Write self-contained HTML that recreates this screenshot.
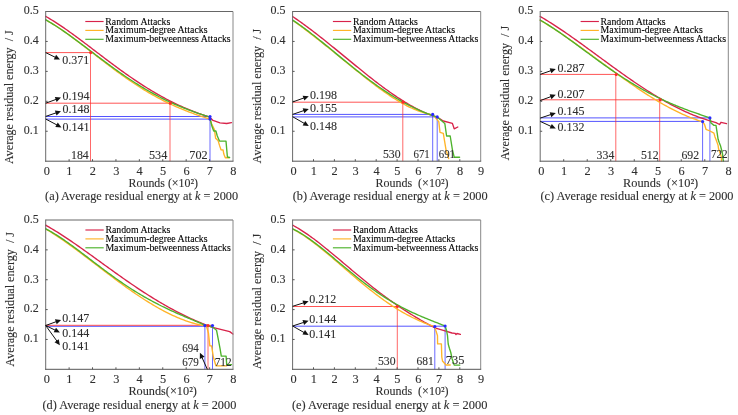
<!DOCTYPE html>
<html><head><meta charset="utf-8"><style>
html,body{margin:0;padding:0;background:#fff;}
svg{display:block;filter:blur(0.3px);}
text{font-family:"Liberation Serif",serif;white-space:pre;stroke:#2e2e2e;stroke-width:0.1px;}
</style></head><body>
<svg width="738" height="415" viewBox="0 0 738 415">
<rect width="738" height="415" fill="#fff"/>
<line x1="45.70" y1="52.60" x2="90.50" y2="52.60" stroke="#ff2a2a" stroke-width="1.0" opacity="0.8"/>
<line x1="45.70" y1="103.20" x2="170.00" y2="103.20" stroke="#ff2a2a" stroke-width="1.0" opacity="0.8"/>
<line x1="45.70" y1="116.50" x2="210.00" y2="116.50" stroke="#2a2aff" stroke-width="1.0" opacity="0.8"/>
<line x1="45.70" y1="119.10" x2="210.00" y2="119.10" stroke="#2a2aff" stroke-width="1.0" opacity="0.8"/>
<line x1="90.50" y1="52.60" x2="90.50" y2="161.20" stroke="#ff2a2a" stroke-width="1.0" opacity="0.7"/>
<line x1="170.00" y1="103.20" x2="170.00" y2="161.20" stroke="#ff2a2a" stroke-width="1.0" opacity="0.7"/>
<line x1="210.00" y1="116.50" x2="210.00" y2="161.20" stroke="#2a2aff" stroke-width="1.0" opacity="0.7"/>
<polyline points="45.70,16.40 47.22,17.27 48.74,18.15 50.26,19.06 51.78,19.98 53.30,20.92 54.82,21.88 56.34,22.85 57.86,23.83 59.38,24.84 60.89,25.85 62.41,26.88 63.93,27.92 65.45,28.97 66.97,30.04 68.49,31.11 70.01,32.19 71.53,33.28 73.05,34.38 74.57,35.49 76.09,36.61 77.61,37.73 79.13,38.86 80.65,39.99 82.17,41.13 83.69,42.27 85.21,43.42 86.73,44.57 88.24,45.72 89.76,46.88 91.28,48.04 92.80,49.19 94.32,50.35 95.84,51.51 97.36,52.67 98.88,53.83 100.40,54.99 101.92,56.14 103.44,57.30 104.96,58.45 106.48,59.59 108.00,60.74 109.52,61.88 111.04,63.02 112.56,64.15 114.08,65.28 115.59,66.40 117.11,67.52 118.63,68.63 120.15,69.73 121.67,70.83 123.19,71.92 124.71,73.01 126.23,74.09 127.75,75.15 129.27,76.22 130.79,77.27 132.31,78.31 133.83,79.35 135.35,80.38 136.87,81.39 138.39,82.40 139.91,83.40 141.43,84.39 142.94,85.37 144.46,86.34 145.98,87.29 147.50,88.24 149.02,89.18 150.54,90.10 152.06,91.02 153.58,91.92 155.10,92.82 156.62,93.70 158.14,94.57 159.66,95.42 161.18,96.27 162.70,97.10 164.22,97.93 165.74,98.74 167.26,99.54 168.78,100.32 170.29,101.10 171.81,101.86 173.33,102.61 174.85,103.35 176.37,104.08 177.89,104.80 179.41,105.50 180.93,106.19 182.45,106.87 183.97,107.54 185.49,108.19 187.01,108.84 188.53,109.47 190.05,110.09 191.57,110.71 193.09,111.30 194.61,111.89 196.12,112.47 197.64,113.04 199.16,113.59 200.68,114.14 202.20,114.67 203.72,115.20 205.24,115.71 206.76,116.22 208.28,116.71 209.80,117.20 213.00,120.40 220.00,122.80 226.70,123.50 231.50,122.60" fill="none" stroke="#d8234a" stroke-width="1.35" stroke-linejoin="round" stroke-linecap="round" />
<polyline points="45.70,19.90 47.22,20.74 48.74,21.61 50.26,22.50 51.78,23.41 53.30,24.35 54.82,25.30 56.34,26.27 57.86,27.26 59.38,28.27 60.89,29.29 62.41,30.33 63.93,31.38 65.45,32.45 66.97,33.53 68.49,34.62 70.01,35.73 71.53,36.84 73.05,37.96 74.57,39.09 76.09,40.23 77.61,41.38 79.13,42.53 80.65,43.69 82.17,44.85 83.69,46.02 85.21,47.19 86.73,48.37 88.24,49.54 89.76,50.72 91.28,51.90 92.80,53.08 94.32,54.26 95.84,55.44 97.36,56.62 98.88,57.80 100.40,58.97 101.92,60.14 103.44,61.31 104.96,62.47 106.48,63.63 108.00,64.79 109.52,65.94 111.04,67.08 112.56,68.22 114.08,69.35 115.59,70.48 117.11,71.59 118.63,72.70 120.15,73.80 121.67,74.89 123.19,75.98 124.71,77.05 126.23,78.12 127.75,79.17 129.27,80.22 130.79,81.25 132.31,82.28 133.83,83.29 135.35,84.29 136.87,85.29 138.39,86.27 139.91,87.23 141.43,88.19 142.94,89.14 144.46,90.07 145.98,90.99 147.50,91.90 149.02,92.80 150.54,93.68 152.06,94.55 153.58,95.41 155.10,96.26 156.62,97.09 158.14,97.91 159.66,98.72 161.18,99.52 162.70,100.30 164.22,101.07 165.74,101.83 167.26,102.57 168.78,103.31 170.29,104.03 171.81,104.74 173.33,105.43 174.85,106.12 176.37,106.79 177.89,107.45 179.41,108.10 180.93,108.74 182.45,109.37 183.97,109.98 185.49,110.59 187.01,111.19 188.53,111.77 190.05,112.35 191.57,112.92 193.09,113.47 194.61,114.02 196.12,114.56 197.64,115.09 199.16,115.62 200.68,116.13 202.20,116.64 203.72,117.15 205.24,117.64 206.76,118.13 208.28,118.62 209.80,119.10 211.60,123.80 214.40,129.50 215.60,138.20 218.00,140.40 219.50,145.40 221.00,149.80 223.10,150.00 223.80,154.10 225.30,157.70 228.90,157.70" fill="none" stroke="#ffb428" stroke-width="1.35" stroke-linejoin="round" stroke-linecap="round" />
<polyline points="45.70,19.80 47.22,20.66 48.74,21.55 50.26,22.46 51.78,23.38 53.30,24.32 54.82,25.28 56.34,26.26 57.86,27.25 59.38,28.26 60.89,29.28 62.41,30.31 63.93,31.36 65.45,32.42 66.97,33.49 68.49,34.56 70.01,35.65 71.53,36.75 73.05,37.86 74.57,38.97 76.09,40.09 77.61,41.21 79.13,42.34 80.65,43.48 82.17,44.62 83.69,45.76 85.21,46.90 86.73,48.05 88.24,49.20 89.76,50.35 91.28,51.50 92.80,52.65 94.32,53.80 95.84,54.95 97.36,56.09 98.88,57.24 100.40,58.38 101.92,59.52 103.44,60.65 104.96,61.78 106.48,62.91 108.00,64.03 109.52,65.15 111.04,66.26 112.56,67.36 114.08,68.46 115.59,69.55 117.11,70.64 118.63,71.71 120.15,72.78 121.67,73.84 123.19,74.89 124.71,75.94 126.23,76.97 127.75,77.99 129.27,79.01 130.79,80.02 132.31,81.01 133.83,82.00 135.35,82.97 136.87,83.93 138.39,84.89 139.91,85.83 141.43,86.76 142.94,87.68 144.46,88.59 145.98,89.49 147.50,90.37 149.02,91.24 150.54,92.11 152.06,92.96 153.58,93.79 155.10,94.62 156.62,95.43 158.14,96.23 159.66,97.02 161.18,97.80 162.70,98.57 164.22,99.32 165.74,100.06 167.26,100.79 168.78,101.51 170.29,102.22 171.81,102.91 173.33,103.59 174.85,104.27 176.37,104.93 177.89,105.57 179.41,106.21 180.93,106.84 182.45,107.46 183.97,108.06 185.49,108.66 187.01,109.24 188.53,109.82 190.05,110.39 191.57,110.94 193.09,111.49 194.61,112.03 196.12,112.56 197.64,113.08 199.16,113.59 200.68,114.10 202.20,114.60 203.72,115.09 205.24,115.58 206.76,116.06 208.28,116.53 209.80,117.00 211.60,125.20 213.70,131.00 215.90,131.00 217.30,136.00 219.50,141.10 226.00,141.10 227.40,157.00 229.60,157.50" fill="none" stroke="#4db32b" stroke-width="1.35" stroke-linejoin="round" stroke-linecap="round" />
<circle cx="90.70" cy="52.60" r="1.6" fill="#ff2a2a"/>
<circle cx="170.30" cy="103.20" r="1.6" fill="#ff2a2a"/>
<circle cx="210.00" cy="116.50" r="1.6" fill="#2a2aff"/>
<circle cx="210.00" cy="119.10" r="1.6" fill="#2a2aff"/>
<line x1="45.70" y1="11.50" x2="233.00" y2="11.50" stroke="#666" stroke-width="1" />
<line x1="233.00" y1="11.50" x2="233.00" y2="161.20" stroke="#888" stroke-width="1" />
<line x1="45.70" y1="11.00" x2="45.70" y2="161.70" stroke="#6a6a6a" stroke-width="1" />
<line x1="45.20" y1="161.20" x2="233.50" y2="161.20" stroke="#555555" stroke-width="1" />
<line x1="69.11" y1="161.20" x2="69.11" y2="159.20" stroke="#555555" stroke-width="1" />
<line x1="92.53" y1="161.20" x2="92.53" y2="159.20" stroke="#555555" stroke-width="1" />
<line x1="115.94" y1="161.20" x2="115.94" y2="159.20" stroke="#555555" stroke-width="1" />
<line x1="139.35" y1="161.20" x2="139.35" y2="159.20" stroke="#555555" stroke-width="1" />
<line x1="162.76" y1="161.20" x2="162.76" y2="159.20" stroke="#555555" stroke-width="1" />
<line x1="186.18" y1="161.20" x2="186.18" y2="159.20" stroke="#555555" stroke-width="1" />
<line x1="209.59" y1="161.20" x2="209.59" y2="159.20" stroke="#555555" stroke-width="1" />
<line x1="45.70" y1="131.26" x2="47.70" y2="131.26" stroke="#555555" stroke-width="1" />
<line x1="45.70" y1="101.32" x2="47.70" y2="101.32" stroke="#555555" stroke-width="1" />
<line x1="45.70" y1="71.38" x2="47.70" y2="71.38" stroke="#555555" stroke-width="1" />
<line x1="45.70" y1="41.44" x2="47.70" y2="41.44" stroke="#555555" stroke-width="1" />
<text x="46.80" y="175.00" font-size="12.3" text-anchor="middle" fill="#2e2e2e" >0</text>
<text x="69.41" y="175.00" font-size="12.3" text-anchor="middle" fill="#2e2e2e" >1</text>
<text x="92.83" y="175.00" font-size="12.3" text-anchor="middle" fill="#2e2e2e" >2</text>
<text x="116.24" y="175.00" font-size="12.3" text-anchor="middle" fill="#2e2e2e" >3</text>
<text x="139.65" y="175.00" font-size="12.3" text-anchor="middle" fill="#2e2e2e" >4</text>
<text x="163.06" y="175.00" font-size="12.3" text-anchor="middle" fill="#2e2e2e" >5</text>
<text x="186.48" y="175.00" font-size="12.3" text-anchor="middle" fill="#2e2e2e" >6</text>
<text x="209.89" y="175.00" font-size="12.3" text-anchor="middle" fill="#2e2e2e" >7</text>
<text x="233.30" y="175.00" font-size="12.3" text-anchor="middle" fill="#2e2e2e" >8</text>
<text x="38.70" y="134.06" font-size="12" text-anchor="end" fill="#2e2e2e" >0.1</text>
<text x="38.70" y="104.12" font-size="12" text-anchor="end" fill="#2e2e2e" >0.2</text>
<text x="38.70" y="74.18" font-size="12" text-anchor="end" fill="#2e2e2e" >0.3</text>
<text x="38.70" y="44.24" font-size="12" text-anchor="end" fill="#2e2e2e" >0.4</text>
<text x="38.70" y="14.30" font-size="12" text-anchor="end" fill="#2e2e2e" >0.5</text>
<text transform="translate(13.20,164.00) rotate(-90)" x="0" y="0" font-size="12" fill="#2e2e2e" textLength="133.7" lengthAdjust="spacingAndGlyphs">Average residual energy  / J</text>
<text x="128.60" y="187.00" font-size="12" text-anchor="start" fill="#2e2e2e" textLength="69.4" lengthAdjust="spacingAndGlyphs" >Rounds (×10²)</text>
<text x="45.10" y="200.10" font-size="12" fill="#2e2e2e" textLength="193.0" lengthAdjust="spacingAndGlyphs">(a) Average residual energy at <tspan font-style="italic">k</tspan> = 2000</text>
<line x1="85.30" y1="21.50" x2="103.60" y2="21.50" stroke="#d8234a" stroke-width="1.15" />
<text x="105.30" y="24.50" font-size="9.8" text-anchor="start" fill="#000" textLength="65" lengthAdjust="spacingAndGlyphs" style="stroke:#000">Random Attacks</text>
<line x1="85.30" y1="30.40" x2="103.60" y2="30.40" stroke="#ffb428" stroke-width="1.15" />
<text x="105.30" y="33.40" font-size="9.8" text-anchor="start" fill="#000" textLength="102.2" lengthAdjust="spacingAndGlyphs" style="stroke:#000">Maximum-degree Attacks</text>
<line x1="85.30" y1="39.30" x2="103.60" y2="39.30" stroke="#4db32b" stroke-width="1.15" />
<text x="105.30" y="42.30" font-size="9.8" text-anchor="start" fill="#000" textLength="125.4" lengthAdjust="spacingAndGlyphs" style="stroke:#000">Maximum-betweenness Attacks</text>
<line x1="45.70" y1="52.60" x2="55.42" y2="57.36" stroke="#111" stroke-width="1.0" />
<polygon points="60.00,59.60 53.83,59.47 56.11,54.80" fill="#111"/>
<text x="62.30" y="64.10" font-size="12" text-anchor="start" fill="#2e2e2e" textLength="27" lengthAdjust="spacingAndGlyphs" >0.371</text>
<line x1="45.70" y1="103.20" x2="56.21" y2="99.35" stroke="#111" stroke-width="1.0" />
<polygon points="61.00,97.60 56.63,101.97 54.85,97.08" fill="#111"/>
<text x="62.60" y="99.80" font-size="12" text-anchor="start" fill="#2e2e2e" textLength="27" lengthAdjust="spacingAndGlyphs" >0.194</text>
<line x1="45.70" y1="116.40" x2="56.17" y2="112.84" stroke="#111" stroke-width="1.0" />
<polygon points="61.00,111.20 56.53,115.46 54.86,110.54" fill="#111"/>
<text x="62.60" y="113.00" font-size="12" text-anchor="start" fill="#2e2e2e" textLength="27" lengthAdjust="spacingAndGlyphs" >0.148</text>
<line x1="45.70" y1="119.00" x2="57.00" y2="125.01" stroke="#111" stroke-width="1.0" />
<polygon points="61.50,127.40 55.33,127.07 57.78,122.48" fill="#111"/>
<text x="62.60" y="131.20" font-size="12" text-anchor="start" fill="#2e2e2e" textLength="27" lengthAdjust="spacingAndGlyphs" >0.141</text>
<text x="71.00" y="158.80" font-size="12" text-anchor="start" fill="#2e2e2e" textLength="17.799999999999997" lengthAdjust="spacingAndGlyphs" >184</text>
<text x="149.00" y="158.80" font-size="12" text-anchor="start" fill="#2e2e2e" textLength="18.30000000000001" lengthAdjust="spacingAndGlyphs" >534</text>
<text x="189.30" y="158.80" font-size="12" text-anchor="start" fill="#2e2e2e" textLength="18.299999999999983" lengthAdjust="spacingAndGlyphs" >702</text>
<line x1="292.60" y1="102.20" x2="402.80" y2="102.20" stroke="#ff2a2a" stroke-width="1.0" opacity="0.8"/>
<line x1="292.60" y1="114.40" x2="432.70" y2="114.40" stroke="#2a2aff" stroke-width="1.0" opacity="0.8"/>
<line x1="292.60" y1="116.90" x2="437.20" y2="116.90" stroke="#2a2aff" stroke-width="1.0" opacity="0.8"/>
<line x1="402.80" y1="102.20" x2="402.80" y2="161.20" stroke="#ff2a2a" stroke-width="1.0" opacity="0.7"/>
<line x1="432.70" y1="114.40" x2="432.70" y2="161.20" stroke="#2a2aff" stroke-width="1.0" opacity="0.7"/>
<line x1="437.20" y1="116.90" x2="437.20" y2="161.20" stroke="#2a2aff" stroke-width="1.0" opacity="0.7"/>
<polyline points="292.60,16.50 294.12,17.53 295.64,18.58 297.17,19.64 298.69,20.71 300.21,21.79 301.73,22.88 303.25,23.98 304.78,25.09 306.30,26.21 307.82,27.34 309.34,28.48 310.87,29.63 312.39,30.78 313.91,31.95 315.43,33.12 316.95,34.30 318.48,35.48 320.00,36.68 321.52,37.88 323.04,39.08 324.56,40.29 326.09,41.51 327.61,42.73 329.13,43.95 330.65,45.18 332.17,46.42 333.70,47.65 335.22,48.89 336.74,50.14 338.26,51.38 339.79,52.63 341.31,53.88 342.83,55.13 344.35,56.38 345.87,57.63 347.40,58.88 348.92,60.13 350.44,61.38 351.96,62.63 353.48,63.87 355.01,65.12 356.53,66.36 358.05,67.60 359.57,68.84 361.09,70.07 362.62,71.30 364.14,72.53 365.66,73.75 367.18,74.96 368.71,76.17 370.23,77.37 371.75,78.57 373.27,79.76 374.79,80.94 376.32,82.11 377.84,83.27 379.36,84.43 380.88,85.58 382.40,86.71 383.93,87.84 385.45,88.96 386.97,90.06 388.49,91.16 390.01,92.24 391.54,93.31 393.06,94.36 394.58,95.40 396.10,96.43 397.63,97.45 399.15,98.44 400.67,99.43 402.19,100.40 403.71,101.35 405.24,102.28 406.76,103.20 408.28,104.10 409.80,104.98 411.32,105.84 412.85,106.68 414.37,107.51 415.89,108.31 417.41,109.09 418.93,109.85 420.46,110.59 421.98,111.30 423.50,111.99 425.02,112.66 426.55,113.31 428.07,113.93 429.59,114.52 431.11,115.09 432.63,115.63 434.16,116.15 435.68,116.64 437.20,117.10 443.30,121.00 452.40,123.40 454.20,128.80 457.80,127.00" fill="none" stroke="#d8234a" stroke-width="1.35" stroke-linejoin="round" stroke-linecap="round" />
<polyline points="292.60,20.20 294.12,21.31 295.65,22.42 297.17,23.54 298.69,24.66 300.21,25.79 301.74,26.93 303.26,28.07 304.78,29.22 306.31,30.37 307.83,31.53 309.35,32.70 310.87,33.87 312.40,35.05 313.92,36.23 315.44,37.42 316.97,38.61 318.49,39.81 320.01,41.01 321.53,42.22 323.06,43.43 324.58,44.65 326.10,45.87 327.62,47.09 329.15,48.31 330.67,49.54 332.19,50.78 333.72,52.01 335.24,53.25 336.76,54.49 338.28,55.73 339.81,56.97 341.33,58.21 342.85,59.46 344.38,60.70 345.90,61.95 347.42,63.19 348.94,64.43 350.47,65.67 351.99,66.91 353.51,68.15 355.04,69.38 356.56,70.61 358.08,71.84 359.60,73.06 361.13,74.28 362.65,75.50 364.17,76.70 365.70,77.90 367.22,79.10 368.74,80.29 370.26,81.47 371.79,82.64 373.31,83.80 374.83,84.96 376.36,86.10 377.88,87.23 379.40,88.35 380.92,89.46 382.45,90.56 383.97,91.64 385.49,92.71 387.02,93.76 388.54,94.80 390.06,95.82 391.58,96.83 393.11,97.81 394.63,98.78 396.15,99.73 397.68,100.66 399.20,101.57 400.72,102.46 402.24,103.33 403.77,104.17 405.29,104.99 406.81,105.78 408.33,106.55 409.86,107.29 411.38,108.00 412.90,108.69 414.43,109.35 415.95,109.97 417.47,110.57 418.99,111.13 420.52,111.66 422.04,112.16 423.56,112.62 425.09,113.04 426.61,113.43 428.13,113.78 429.65,114.10 431.18,114.37 432.70,114.60 438.80,121.60 440.00,132.40 443.30,133.30 446.00,149.60 448.70,158.60" fill="none" stroke="#ffb428" stroke-width="1.35" stroke-linejoin="round" stroke-linecap="round" />
<polyline points="292.60,20.10 294.12,21.11 295.64,22.13 297.17,23.17 298.69,24.23 300.21,25.31 301.73,26.40 303.25,27.50 304.78,28.62 306.30,29.76 307.82,30.90 309.34,32.06 310.87,33.23 312.39,34.41 313.91,35.59 315.43,36.79 316.95,38.00 318.48,39.21 320.00,40.43 321.52,41.65 323.04,42.88 324.56,44.12 326.09,45.36 327.61,46.60 329.13,47.85 330.65,49.10 332.17,50.35 333.70,51.60 335.22,52.86 336.74,54.11 338.26,55.36 339.79,56.62 341.31,57.87 342.83,59.11 344.35,60.36 345.87,61.60 347.40,62.84 348.92,64.08 350.44,65.31 351.96,66.53 353.48,67.75 355.01,68.97 356.53,70.17 358.05,71.37 359.57,72.57 361.09,73.75 362.62,74.93 364.14,76.10 365.66,77.26 367.18,78.41 368.71,79.55 370.23,80.69 371.75,81.81 373.27,82.92 374.79,84.02 376.32,85.11 377.84,86.19 379.36,87.25 380.88,88.31 382.40,89.35 383.93,90.38 385.45,91.39 386.97,92.40 388.49,93.39 390.01,94.36 391.54,95.33 393.06,96.27 394.58,97.21 396.10,98.13 397.63,99.03 399.15,99.92 400.67,100.80 402.19,101.66 403.71,102.51 405.24,103.34 406.76,104.15 408.28,104.95 409.80,105.73 411.32,106.50 412.85,107.25 414.37,107.99 415.89,108.71 417.41,109.41 418.93,110.10 420.46,110.77 421.98,111.43 423.50,112.07 425.02,112.69 426.55,113.30 428.07,113.89 429.59,114.46 431.11,115.02 432.63,115.57 434.16,116.09 435.68,116.60 437.20,117.10 444.80,123.40 446.60,136.00 450.20,136.00 452.40,149.60 454.20,157.20 459.60,157.20" fill="none" stroke="#4db32b" stroke-width="1.35" stroke-linejoin="round" stroke-linecap="round" />
<circle cx="403.10" cy="102.20" r="1.6" fill="#ff2a2a"/>
<circle cx="432.70" cy="114.40" r="1.6" fill="#2a2aff"/>
<circle cx="437.20" cy="116.90" r="1.6" fill="#2a2aff"/>
<line x1="292.60" y1="11.50" x2="480.70" y2="11.50" stroke="#666" stroke-width="1" />
<line x1="480.70" y1="11.50" x2="480.70" y2="161.20" stroke="#888" stroke-width="1" />
<line x1="292.60" y1="11.00" x2="292.60" y2="161.70" stroke="#6a6a6a" stroke-width="1" />
<line x1="292.10" y1="161.20" x2="481.20" y2="161.20" stroke="#555555" stroke-width="1" />
<line x1="313.50" y1="161.20" x2="313.50" y2="159.20" stroke="#555555" stroke-width="1" />
<line x1="334.40" y1="161.20" x2="334.40" y2="159.20" stroke="#555555" stroke-width="1" />
<line x1="355.30" y1="161.20" x2="355.30" y2="159.20" stroke="#555555" stroke-width="1" />
<line x1="376.20" y1="161.20" x2="376.20" y2="159.20" stroke="#555555" stroke-width="1" />
<line x1="397.10" y1="161.20" x2="397.10" y2="159.20" stroke="#555555" stroke-width="1" />
<line x1="418.00" y1="161.20" x2="418.00" y2="159.20" stroke="#555555" stroke-width="1" />
<line x1="438.90" y1="161.20" x2="438.90" y2="159.20" stroke="#555555" stroke-width="1" />
<line x1="459.80" y1="161.20" x2="459.80" y2="159.20" stroke="#555555" stroke-width="1" />
<line x1="292.60" y1="131.26" x2="294.60" y2="131.26" stroke="#555555" stroke-width="1" />
<line x1="292.60" y1="101.32" x2="294.60" y2="101.32" stroke="#555555" stroke-width="1" />
<line x1="292.60" y1="71.38" x2="294.60" y2="71.38" stroke="#555555" stroke-width="1" />
<line x1="292.60" y1="41.44" x2="294.60" y2="41.44" stroke="#555555" stroke-width="1" />
<text x="293.70" y="175.00" font-size="12.3" text-anchor="middle" fill="#2e2e2e" >0</text>
<text x="313.80" y="175.00" font-size="12.3" text-anchor="middle" fill="#2e2e2e" >1</text>
<text x="334.70" y="175.00" font-size="12.3" text-anchor="middle" fill="#2e2e2e" >2</text>
<text x="355.60" y="175.00" font-size="12.3" text-anchor="middle" fill="#2e2e2e" >3</text>
<text x="376.50" y="175.00" font-size="12.3" text-anchor="middle" fill="#2e2e2e" >4</text>
<text x="397.40" y="175.00" font-size="12.3" text-anchor="middle" fill="#2e2e2e" >5</text>
<text x="418.30" y="175.00" font-size="12.3" text-anchor="middle" fill="#2e2e2e" >6</text>
<text x="439.20" y="175.00" font-size="12.3" text-anchor="middle" fill="#2e2e2e" >7</text>
<text x="460.10" y="175.00" font-size="12.3" text-anchor="middle" fill="#2e2e2e" >8</text>
<text x="481.00" y="175.00" font-size="12.3" text-anchor="middle" fill="#2e2e2e" >9</text>
<text x="285.60" y="134.06" font-size="12" text-anchor="end" fill="#2e2e2e" >0.1</text>
<text x="285.60" y="104.12" font-size="12" text-anchor="end" fill="#2e2e2e" >0.2</text>
<text x="285.60" y="74.18" font-size="12" text-anchor="end" fill="#2e2e2e" >0.3</text>
<text x="285.60" y="44.24" font-size="12" text-anchor="end" fill="#2e2e2e" >0.4</text>
<text x="285.60" y="14.30" font-size="12" text-anchor="end" fill="#2e2e2e" >0.5</text>
<text transform="translate(261.00,163.40) rotate(-90)" x="0" y="0" font-size="12" fill="#2e2e2e" textLength="134.7" lengthAdjust="spacingAndGlyphs">Average residual energy  / J</text>
<text x="375.40" y="187.00" font-size="12" text-anchor="start" fill="#2e2e2e" textLength="73.1" lengthAdjust="spacingAndGlyphs" >Rounds  (×10²)</text>
<text x="292.70" y="200.10" font-size="12" fill="#2e2e2e" textLength="195.0" lengthAdjust="spacingAndGlyphs">(b) Average residual energy at <tspan font-style="italic">k</tspan> = 2000</text>
<line x1="332.90" y1="21.50" x2="351.20" y2="21.50" stroke="#d8234a" stroke-width="1.15" />
<text x="352.90" y="24.50" font-size="9.8" text-anchor="start" fill="#000" textLength="65" lengthAdjust="spacingAndGlyphs" style="stroke:#000">Random Attacks</text>
<line x1="332.90" y1="30.40" x2="351.20" y2="30.40" stroke="#ffb428" stroke-width="1.15" />
<text x="352.90" y="33.40" font-size="9.8" text-anchor="start" fill="#000" textLength="102.2" lengthAdjust="spacingAndGlyphs" style="stroke:#000">Maximum-degree Attacks</text>
<line x1="332.90" y1="39.30" x2="351.20" y2="39.30" stroke="#4db32b" stroke-width="1.15" />
<text x="352.90" y="42.30" font-size="9.8" text-anchor="start" fill="#000" textLength="125.4" lengthAdjust="spacingAndGlyphs" style="stroke:#000">Maximum-betweenness Attacks</text>
<line x1="292.60" y1="102.00" x2="304.00" y2="97.92" stroke="#111" stroke-width="1.0" />
<polygon points="308.80,96.20 304.40,100.54 302.65,95.64" fill="#111"/>
<text x="310.00" y="98.50" font-size="12" text-anchor="start" fill="#2e2e2e" textLength="27" lengthAdjust="spacingAndGlyphs" >0.198</text>
<line x1="292.60" y1="114.40" x2="303.97" y2="110.54" stroke="#111" stroke-width="1.0" />
<polygon points="308.80,108.90 304.33,113.16 302.66,108.24" fill="#111"/>
<text x="310.00" y="111.80" font-size="12" text-anchor="start" fill="#2e2e2e" textLength="27" lengthAdjust="spacingAndGlyphs" >0.155</text>
<line x1="292.60" y1="116.70" x2="304.38" y2="123.46" stroke="#111" stroke-width="1.0" />
<polygon points="308.80,126.00 302.65,125.47 305.24,120.96" fill="#111"/>
<text x="310.00" y="130.00" font-size="12" text-anchor="start" fill="#2e2e2e" textLength="27" lengthAdjust="spacingAndGlyphs" >0.148</text>
<text x="383.00" y="158.00" font-size="12" text-anchor="start" fill="#2e2e2e" textLength="17.600000000000023" lengthAdjust="spacingAndGlyphs" >530</text>
<text x="413.50" y="158.00" font-size="12" text-anchor="start" fill="#2e2e2e" textLength="16.30000000000001" lengthAdjust="spacingAndGlyphs" >671</text>
<text x="438.80" y="158.00" font-size="12" text-anchor="start" fill="#2e2e2e" textLength="16.19999999999999" lengthAdjust="spacingAndGlyphs" >691</text>
<line x1="540.20" y1="74.40" x2="615.80" y2="74.40" stroke="#ff2a2a" stroke-width="1.0" opacity="0.8"/>
<line x1="540.20" y1="99.80" x2="659.70" y2="99.80" stroke="#ff2a2a" stroke-width="1.0" opacity="0.8"/>
<line x1="540.20" y1="117.90" x2="709.90" y2="117.90" stroke="#2a2aff" stroke-width="1.0" opacity="0.8"/>
<line x1="540.20" y1="121.40" x2="702.60" y2="121.40" stroke="#2a2aff" stroke-width="1.0" opacity="0.8"/>
<line x1="615.80" y1="74.40" x2="615.80" y2="161.20" stroke="#ff2a2a" stroke-width="1.0" opacity="0.7"/>
<line x1="659.70" y1="99.80" x2="659.70" y2="161.20" stroke="#ff2a2a" stroke-width="1.0" opacity="0.7"/>
<line x1="709.90" y1="117.90" x2="709.90" y2="161.20" stroke="#2a2aff" stroke-width="1.0" opacity="0.7"/>
<line x1="702.60" y1="121.40" x2="702.60" y2="161.20" stroke="#2a2aff" stroke-width="1.0" opacity="0.7"/>
<polyline points="540.20,16.50 541.72,17.38 543.23,18.28 544.75,19.19 546.26,20.10 547.78,21.04 549.30,21.98 550.81,22.93 552.33,23.89 553.84,24.86 555.36,25.85 556.88,26.84 558.39,27.84 559.91,28.85 561.43,29.86 562.94,30.89 564.46,31.92 565.97,32.96 567.49,34.01 569.01,35.06 570.52,36.12 572.04,37.18 573.55,38.25 575.07,39.33 576.59,40.41 578.10,41.49 579.62,42.58 581.13,43.67 582.65,44.77 584.17,45.87 585.68,46.97 587.20,48.08 588.71,49.18 590.23,50.29 591.75,51.40 593.26,52.51 594.78,53.63 596.29,54.74 597.81,55.85 599.33,56.97 600.84,58.08 602.36,59.19 603.88,60.30 605.39,61.41 606.91,62.52 608.42,63.63 609.94,64.74 611.46,65.84 612.97,66.94 614.49,68.04 616.00,69.14 617.52,70.23 619.04,71.32 620.55,72.40 622.07,73.48 623.58,74.56 625.10,75.63 626.62,76.69 628.13,77.75 629.65,78.81 631.16,79.86 632.68,80.90 634.20,81.94 635.71,82.97 637.23,83.99 638.74,85.01 640.26,86.02 641.78,87.02 643.29,88.02 644.81,89.00 646.33,89.98 647.84,90.95 649.36,91.91 650.87,92.86 652.39,93.81 653.91,94.74 655.42,95.66 656.94,96.58 658.45,97.48 659.97,98.38 661.49,99.26 663.00,100.13 664.52,100.99 666.03,101.84 667.55,102.68 669.07,103.51 670.58,104.33 672.10,105.13 673.61,105.92 675.13,106.70 676.65,107.47 678.16,108.22 679.68,108.97 681.19,109.69 682.71,110.41 684.23,111.11 685.74,111.80 687.26,112.47 688.77,113.13 690.29,113.78 691.81,114.41 693.32,115.03 694.84,115.63 696.36,116.21 697.87,116.79 699.39,117.34 700.90,117.88 702.42,118.41 703.94,118.92 705.45,119.41 706.97,119.89 708.48,120.35 710.00,120.80 716.00,122.70 719.50,124.50 721.00,122.30 726.50,123.60" fill="none" stroke="#d8234a" stroke-width="1.35" stroke-linejoin="round" stroke-linecap="round" />
<polyline points="540.20,20.20 541.72,21.11 543.23,22.04 544.75,22.97 546.27,23.91 547.78,24.86 549.30,25.82 550.82,26.79 552.33,27.77 553.85,28.76 555.37,29.76 556.89,30.76 558.40,31.77 559.92,32.79 561.44,33.81 562.95,34.84 564.47,35.88 565.99,36.93 567.50,37.98 569.02,39.04 570.54,40.10 572.05,41.16 573.57,42.24 575.09,43.31 576.60,44.40 578.12,45.48 579.64,46.57 581.15,47.66 582.67,48.76 584.19,49.86 585.70,50.96 587.22,52.06 588.74,53.17 590.26,54.28 591.77,55.39 593.29,56.50 594.81,57.61 596.32,58.72 597.84,59.84 599.36,60.95 600.87,62.07 602.39,63.18 603.91,64.29 605.42,65.41 606.94,66.52 608.46,67.63 609.97,68.73 611.49,69.84 613.01,70.94 614.52,72.05 616.04,73.14 617.56,74.24 619.07,75.33 620.59,76.42 622.11,77.50 623.63,78.58 625.14,79.66 626.66,80.73 628.18,81.80 629.69,82.86 631.21,83.91 632.73,84.96 634.24,86.00 635.76,87.04 637.28,88.07 638.79,89.09 640.31,90.10 641.83,91.11 643.34,92.11 644.86,93.10 646.38,94.08 647.89,95.06 649.41,96.02 650.93,96.97 652.44,97.92 653.96,98.85 655.48,99.78 657.00,100.69 658.51,101.60 660.03,102.49 661.55,103.37 663.06,104.24 664.58,105.09 666.10,105.94 667.61,106.77 669.13,107.59 670.65,108.39 672.16,109.18 673.68,109.96 675.20,110.72 676.71,111.47 678.23,112.21 679.75,112.93 681.26,113.63 682.78,114.32 684.30,114.99 685.81,115.65 687.33,116.29 688.85,116.91 690.37,117.51 691.88,118.10 693.40,118.67 694.92,119.22 696.43,119.76 697.95,120.27 699.47,120.77 700.98,121.24 702.50,121.70 704.50,124.50 706.00,129.30 710.00,131.00 713.90,133.10 715.00,136.90 716.20,140.00 718.10,145.40 718.50,148.50 720.00,153.10 721.20,156.20 721.60,161.00" fill="none" stroke="#ffb428" stroke-width="1.35" stroke-linejoin="round" stroke-linecap="round" />
<polyline points="540.20,20.10 541.72,20.97 543.23,21.87 544.75,22.77 546.26,23.70 547.78,24.64 549.29,25.60 550.81,26.58 552.32,27.56 553.84,28.56 555.35,29.57 556.87,30.60 558.38,31.63 559.90,32.68 561.41,33.73 562.93,34.79 564.44,35.86 565.96,36.94 567.47,38.03 568.99,39.12 570.50,40.21 572.02,41.32 573.53,42.42 575.05,43.53 576.56,44.64 578.08,45.76 579.59,46.87 581.11,47.99 582.62,49.11 584.14,50.23 585.66,51.35 587.17,52.46 588.69,53.58 590.20,54.70 591.72,55.81 593.23,56.92 594.75,58.03 596.26,59.13 597.78,60.23 599.29,61.33 600.81,62.42 602.32,63.50 603.84,64.58 605.35,65.66 606.87,66.72 608.38,67.79 609.90,68.84 611.41,69.89 612.93,70.93 614.44,71.96 615.96,72.99 617.47,74.01 618.99,75.01 620.50,76.01 622.02,77.00 623.53,77.99 625.05,78.96 626.57,79.92 628.08,80.87 629.60,81.82 631.11,82.75 632.63,83.67 634.14,84.59 635.66,85.49 637.17,86.38 638.69,87.26 640.20,88.13 641.72,88.99 643.23,89.84 644.75,90.68 646.26,91.51 647.78,92.32 649.29,93.13 650.81,93.92 652.32,94.71 653.84,95.48 655.35,96.24 656.87,96.99 658.38,97.73 659.90,98.46 661.41,99.18 662.93,99.89 664.44,100.59 665.96,101.28 667.48,101.96 668.99,102.63 670.51,103.29 672.02,103.94 673.54,104.58 675.05,105.21 676.57,105.83 678.08,106.44 679.60,107.04 681.11,107.64 682.63,108.23 684.14,108.81 685.66,109.38 687.17,109.95 688.69,110.51 690.20,111.06 691.72,111.60 693.23,112.14 694.75,112.68 696.26,113.21 697.78,113.73 699.29,114.25 700.81,114.77 702.32,115.28 703.84,115.79 705.35,116.29 706.87,116.80 708.38,117.30 709.90,117.80 711.00,123.00 714.00,125.40 716.00,125.40 717.30,133.90 718.10,139.30 719.30,142.70 720.40,145.40 721.20,148.50 722.40,153.10 723.10,159.30 723.40,161.00" fill="none" stroke="#4db32b" stroke-width="1.35" stroke-linejoin="round" stroke-linecap="round" />
<circle cx="616.20" cy="74.50" r="1.6" fill="#ff2a2a"/>
<circle cx="660.20" cy="99.90" r="1.6" fill="#ff2a2a"/>
<circle cx="709.90" cy="117.90" r="1.6" fill="#2a2aff"/>
<circle cx="702.60" cy="121.60" r="1.6" fill="#2a2aff"/>
<line x1="540.20" y1="11.50" x2="728.30" y2="11.50" stroke="#666" stroke-width="1" />
<line x1="728.30" y1="11.50" x2="728.30" y2="161.20" stroke="#888" stroke-width="1" />
<line x1="540.20" y1="11.00" x2="540.20" y2="161.70" stroke="#6a6a6a" stroke-width="1" />
<line x1="539.70" y1="161.20" x2="728.80" y2="161.20" stroke="#555555" stroke-width="1" />
<line x1="563.71" y1="161.20" x2="563.71" y2="159.20" stroke="#555555" stroke-width="1" />
<line x1="587.23" y1="161.20" x2="587.23" y2="159.20" stroke="#555555" stroke-width="1" />
<line x1="610.74" y1="161.20" x2="610.74" y2="159.20" stroke="#555555" stroke-width="1" />
<line x1="634.25" y1="161.20" x2="634.25" y2="159.20" stroke="#555555" stroke-width="1" />
<line x1="657.76" y1="161.20" x2="657.76" y2="159.20" stroke="#555555" stroke-width="1" />
<line x1="681.27" y1="161.20" x2="681.27" y2="159.20" stroke="#555555" stroke-width="1" />
<line x1="704.79" y1="161.20" x2="704.79" y2="159.20" stroke="#555555" stroke-width="1" />
<line x1="540.20" y1="131.26" x2="542.20" y2="131.26" stroke="#555555" stroke-width="1" />
<line x1="540.20" y1="101.32" x2="542.20" y2="101.32" stroke="#555555" stroke-width="1" />
<line x1="540.20" y1="71.38" x2="542.20" y2="71.38" stroke="#555555" stroke-width="1" />
<line x1="540.20" y1="41.44" x2="542.20" y2="41.44" stroke="#555555" stroke-width="1" />
<text x="541.30" y="175.00" font-size="12.3" text-anchor="middle" fill="#2e2e2e" >0</text>
<text x="564.01" y="175.00" font-size="12.3" text-anchor="middle" fill="#2e2e2e" >1</text>
<text x="587.52" y="175.00" font-size="12.3" text-anchor="middle" fill="#2e2e2e" >2</text>
<text x="611.04" y="175.00" font-size="12.3" text-anchor="middle" fill="#2e2e2e" >3</text>
<text x="634.55" y="175.00" font-size="12.3" text-anchor="middle" fill="#2e2e2e" >4</text>
<text x="658.06" y="175.00" font-size="12.3" text-anchor="middle" fill="#2e2e2e" >5</text>
<text x="681.57" y="175.00" font-size="12.3" text-anchor="middle" fill="#2e2e2e" >6</text>
<text x="705.09" y="175.00" font-size="12.3" text-anchor="middle" fill="#2e2e2e" >7</text>
<text x="728.60" y="175.00" font-size="12.3" text-anchor="middle" fill="#2e2e2e" >8</text>
<text x="533.20" y="134.06" font-size="12" text-anchor="end" fill="#2e2e2e" >0.1</text>
<text x="533.20" y="104.12" font-size="12" text-anchor="end" fill="#2e2e2e" >0.2</text>
<text x="533.20" y="74.18" font-size="12" text-anchor="end" fill="#2e2e2e" >0.3</text>
<text x="533.20" y="44.24" font-size="12" text-anchor="end" fill="#2e2e2e" >0.4</text>
<text x="533.20" y="14.30" font-size="12" text-anchor="end" fill="#2e2e2e" >0.5</text>
<text transform="translate(508.60,160.40) rotate(-90)" x="0" y="0" font-size="12" fill="#2e2e2e" textLength="134.6" lengthAdjust="spacingAndGlyphs">Average residual energy  / J</text>
<text x="623.00" y="187.00" font-size="12" text-anchor="start" fill="#2e2e2e" textLength="75.2" lengthAdjust="spacingAndGlyphs" >Rounds  (×10²)</text>
<text x="540.50" y="200.10" font-size="12" fill="#2e2e2e" textLength="193.0" lengthAdjust="spacingAndGlyphs">(c) Average residual energy at <tspan font-style="italic">k</tspan> = 2000</text>
<line x1="580.60" y1="21.50" x2="598.90" y2="21.50" stroke="#d8234a" stroke-width="1.15" />
<text x="600.60" y="24.50" font-size="9.8" text-anchor="start" fill="#000" textLength="65" lengthAdjust="spacingAndGlyphs" style="stroke:#000">Random Attacks</text>
<line x1="580.60" y1="30.40" x2="598.90" y2="30.40" stroke="#ffb428" stroke-width="1.15" />
<text x="600.60" y="33.40" font-size="9.8" text-anchor="start" fill="#000" textLength="102.2" lengthAdjust="spacingAndGlyphs" style="stroke:#000">Maximum-degree Attacks</text>
<line x1="580.60" y1="39.30" x2="598.90" y2="39.30" stroke="#4db32b" stroke-width="1.15" />
<text x="600.60" y="42.30" font-size="9.8" text-anchor="start" fill="#000" textLength="125.4" lengthAdjust="spacingAndGlyphs" style="stroke:#000">Maximum-betweenness Attacks</text>
<line x1="540.20" y1="74.40" x2="550.98" y2="70.67" stroke="#111" stroke-width="1.0" />
<polygon points="555.80,69.00 551.36,73.29 549.66,68.37" fill="#111"/>
<text x="557.60" y="72.30" font-size="12" text-anchor="start" fill="#2e2e2e" textLength="27" lengthAdjust="spacingAndGlyphs" >0.287</text>
<line x1="540.20" y1="100.60" x2="551.02" y2="96.58" stroke="#111" stroke-width="1.0" />
<polygon points="555.80,94.80 551.46,99.19 549.64,94.31" fill="#111"/>
<text x="557.60" y="97.50" font-size="12" text-anchor="start" fill="#2e2e2e" textLength="27" lengthAdjust="spacingAndGlyphs" >0.207</text>
<line x1="540.20" y1="118.10" x2="550.96" y2="114.51" stroke="#111" stroke-width="1.0" />
<polygon points="555.80,112.90 551.31,117.14 549.67,112.20" fill="#111"/>
<text x="557.60" y="115.00" font-size="12" text-anchor="start" fill="#2e2e2e" textLength="27" lengthAdjust="spacingAndGlyphs" >0.145</text>
<line x1="540.20" y1="121.40" x2="551.17" y2="126.46" stroke="#111" stroke-width="1.0" />
<polygon points="555.80,128.60 549.63,128.61 551.80,123.89" fill="#111"/>
<text x="557.60" y="130.80" font-size="12" text-anchor="start" fill="#2e2e2e" textLength="27" lengthAdjust="spacingAndGlyphs" >0.132</text>
<text x="596.60" y="158.50" font-size="12" text-anchor="start" fill="#2e2e2e" textLength="17.699999999999932" lengthAdjust="spacingAndGlyphs" >334</text>
<text x="640.90" y="158.50" font-size="12" text-anchor="start" fill="#2e2e2e" textLength="17.700000000000045" lengthAdjust="spacingAndGlyphs" >512</text>
<text x="681.40" y="158.50" font-size="12" text-anchor="start" fill="#2e2e2e" textLength="17.700000000000045" lengthAdjust="spacingAndGlyphs" >692</text>
<text x="710.90" y="158.00" font-size="12" text-anchor="start" fill="#2e2e2e" textLength="16.700000000000045" lengthAdjust="spacingAndGlyphs" >722</text>
<line x1="45.70" y1="326.30" x2="212.50" y2="326.30" stroke="#2a2aff" stroke-width="1.0" opacity="0.8"/>
<line x1="45.70" y1="325.30" x2="212.50" y2="325.30" stroke="#ff2a2a" stroke-width="1.0" opacity="0.8"/>
<line x1="204.90" y1="325.60" x2="204.90" y2="369.30" stroke="#2a2aff" stroke-width="1.0" opacity="0.7"/>
<line x1="208.00" y1="325.60" x2="208.00" y2="369.30" stroke="#ff2a2a" stroke-width="1.0" opacity="0.7"/>
<line x1="212.50" y1="325.60" x2="212.50" y2="369.30" stroke="#2a2aff" stroke-width="1.0" opacity="0.7"/>
<polyline points="45.70,225.20 47.22,226.06 48.73,226.93 50.25,227.81 51.77,228.71 53.28,229.62 54.80,230.55 56.32,231.48 57.83,232.43 59.35,233.39 60.87,234.36 62.39,235.34 63.90,236.33 65.42,237.33 66.94,238.33 68.45,239.35 69.97,240.37 71.49,241.41 73.00,242.44 74.52,243.49 76.04,244.54 77.55,245.60 79.07,246.66 80.59,247.73 82.10,248.80 83.62,249.88 85.14,250.96 86.65,252.04 88.17,253.13 89.69,254.22 91.20,255.31 92.72,256.40 94.24,257.50 95.76,258.60 97.27,259.69 98.79,260.79 100.31,261.89 101.82,262.99 103.34,264.09 104.86,265.19 106.37,266.29 107.89,267.38 109.41,268.48 110.92,269.57 112.44,270.66 113.96,271.75 115.47,272.83 116.99,273.91 118.51,274.99 120.02,276.06 121.54,277.14 123.06,278.20 124.57,279.27 126.09,280.32 127.61,281.38 129.13,282.42 130.64,283.47 132.16,284.50 133.68,285.54 135.19,286.56 136.71,287.58 138.23,288.59 139.74,289.60 141.26,290.60 142.78,291.59 144.29,292.57 145.81,293.55 147.33,294.52 148.84,295.48 150.36,296.44 151.88,297.39 153.39,298.32 154.91,299.25 156.43,300.17 157.94,301.09 159.46,301.99 160.98,302.89 162.50,303.77 164.01,304.65 165.53,305.52 167.05,306.37 168.56,307.22 170.08,308.06 171.60,308.89 173.11,309.71 174.63,310.52 176.15,311.32 177.66,312.11 179.18,312.88 180.70,313.65 182.21,314.41 183.73,315.16 185.25,315.90 186.76,316.63 188.28,317.34 189.80,318.05 191.31,318.74 192.83,319.43 194.35,320.11 195.87,320.77 197.38,321.42 198.90,322.07 200.42,322.70 201.93,323.32 203.45,323.93 204.97,324.53 206.48,325.12 208.00,325.70 211.60,327.10 229.70,331.60 232.90,334.00" fill="none" stroke="#d8234a" stroke-width="1.35" stroke-linejoin="round" stroke-linecap="round" />
<polyline points="45.70,228.90 47.22,229.82 48.73,230.76 50.25,231.71 51.76,232.67 53.28,233.65 54.80,234.64 56.31,235.64 57.83,236.66 59.35,237.68 60.86,238.71 62.38,239.76 63.89,240.81 65.41,241.88 66.93,242.95 68.44,244.03 69.96,245.12 71.48,246.22 72.99,247.32 74.51,248.43 76.02,249.55 77.54,250.67 79.06,251.79 80.57,252.93 82.09,254.06 83.60,255.20 85.12,256.35 86.64,257.49 88.15,258.64 89.67,259.80 91.19,260.95 92.70,262.11 94.22,263.26 95.73,264.42 97.25,265.58 98.77,266.73 100.28,267.89 101.80,269.05 103.32,270.20 104.83,271.35 106.35,272.51 107.86,273.65 109.38,274.80 110.90,275.94 112.41,277.08 113.93,278.21 115.44,279.34 116.96,280.47 118.48,281.59 119.99,282.71 121.51,283.81 123.03,284.92 124.54,286.01 126.06,287.10 127.57,288.18 129.09,289.26 130.61,290.32 132.12,291.38 133.64,292.43 135.16,293.47 136.67,294.50 138.19,295.52 139.70,296.53 141.22,297.53 142.74,298.52 144.25,299.49 145.77,300.46 147.28,301.42 148.80,302.36 150.32,303.29 151.83,304.20 153.35,305.11 154.87,306.00 156.38,306.88 157.90,307.74 159.41,308.59 160.93,309.42 162.45,310.24 163.96,311.04 165.48,311.83 167.00,312.60 168.51,313.36 170.03,314.10 171.54,314.82 173.06,315.52 174.58,316.21 176.09,316.88 177.61,317.54 179.12,318.17 180.64,318.78 182.16,319.38 183.67,319.96 185.19,320.52 186.71,321.06 188.22,321.58 189.74,322.08 191.25,322.55 192.77,323.01 194.29,323.45 195.80,323.86 197.32,324.26 198.84,324.63 200.35,324.98 201.87,325.31 203.38,325.62 204.90,325.90 206.80,327.20 208.50,333.30 209.80,345.90 211.60,345.90 213.40,357.30 215.90,365.80 226.70,365.80" fill="none" stroke="#ffb428" stroke-width="1.35" stroke-linejoin="round" stroke-linecap="round" />
<polyline points="45.70,228.80 47.22,229.60 48.73,230.42 50.25,231.27 51.76,232.15 53.28,233.05 54.80,233.97 56.31,234.92 57.83,235.88 59.35,236.86 60.86,237.87 62.38,238.88 63.89,239.92 65.41,240.97 66.93,242.03 68.44,243.10 69.96,244.19 71.48,245.29 72.99,246.39 74.51,247.51 76.02,248.63 77.54,249.77 79.06,250.90 80.57,252.05 82.09,253.19 83.60,254.34 85.12,255.50 86.64,256.65 88.15,257.81 89.67,258.97 91.19,260.13 92.70,261.29 94.22,262.45 95.73,263.60 97.25,264.75 98.77,265.90 100.28,267.05 101.80,268.19 103.32,269.33 104.83,270.46 106.35,271.58 107.86,272.70 109.38,273.81 110.90,274.92 112.41,276.02 113.93,277.11 115.44,278.19 116.96,279.26 118.48,280.32 119.99,281.38 121.51,282.42 123.03,283.46 124.54,284.48 126.06,285.50 127.57,286.50 129.09,287.49 130.61,288.48 132.12,289.45 133.64,290.41 135.16,291.35 136.67,292.29 138.19,293.22 139.70,294.13 141.22,295.03 142.74,295.92 144.25,296.80 145.77,297.67 147.28,298.53 148.80,299.37 150.32,300.21 151.83,301.03 153.35,301.84 154.87,302.64 156.38,303.43 157.90,304.21 159.41,304.98 160.93,305.74 162.45,306.49 163.96,307.23 165.48,307.96 167.00,308.68 168.51,309.39 170.03,310.10 171.54,310.79 173.06,311.48 174.58,312.17 176.09,312.84 177.61,313.51 179.12,314.18 180.64,314.84 182.16,315.49 183.67,316.15 185.19,316.79 186.71,317.44 188.22,318.08 189.74,318.72 191.25,319.36 192.77,320.00 194.29,320.64 195.80,321.28 197.32,321.93 198.84,322.57 200.35,323.22 201.87,323.88 203.38,324.54 204.90,325.20 212.50,327.00 216.50,330.20 218.30,339.30 220.10,348.90 221.30,356.10 226.10,356.10 226.70,364.60 231.50,364.60" fill="none" stroke="#4db32b" stroke-width="1.35" stroke-linejoin="round" stroke-linecap="round" />
<circle cx="204.90" cy="325.60" r="1.6" fill="#2a2aff"/>
<circle cx="208.00" cy="325.60" r="1.6" fill="#ff2a2a"/>
<circle cx="212.50" cy="325.60" r="1.6" fill="#2a2aff"/>
<line x1="45.70" y1="220.00" x2="233.00" y2="220.00" stroke="#666" stroke-width="1" />
<line x1="233.00" y1="220.00" x2="233.00" y2="369.30" stroke="#888" stroke-width="1" />
<line x1="45.70" y1="219.50" x2="45.70" y2="369.80" stroke="#6a6a6a" stroke-width="1" />
<line x1="45.20" y1="369.30" x2="233.50" y2="369.30" stroke="#555555" stroke-width="1" />
<line x1="69.11" y1="369.30" x2="69.11" y2="367.30" stroke="#555555" stroke-width="1" />
<line x1="92.53" y1="369.30" x2="92.53" y2="367.30" stroke="#555555" stroke-width="1" />
<line x1="115.94" y1="369.30" x2="115.94" y2="367.30" stroke="#555555" stroke-width="1" />
<line x1="139.35" y1="369.30" x2="139.35" y2="367.30" stroke="#555555" stroke-width="1" />
<line x1="162.76" y1="369.30" x2="162.76" y2="367.30" stroke="#555555" stroke-width="1" />
<line x1="186.18" y1="369.30" x2="186.18" y2="367.30" stroke="#555555" stroke-width="1" />
<line x1="209.59" y1="369.30" x2="209.59" y2="367.30" stroke="#555555" stroke-width="1" />
<line x1="45.70" y1="339.44" x2="47.70" y2="339.44" stroke="#555555" stroke-width="1" />
<line x1="45.70" y1="309.58" x2="47.70" y2="309.58" stroke="#555555" stroke-width="1" />
<line x1="45.70" y1="279.72" x2="47.70" y2="279.72" stroke="#555555" stroke-width="1" />
<line x1="45.70" y1="249.86" x2="47.70" y2="249.86" stroke="#555555" stroke-width="1" />
<text x="46.80" y="383.10" font-size="12.3" text-anchor="middle" fill="#2e2e2e" >0</text>
<text x="69.41" y="383.10" font-size="12.3" text-anchor="middle" fill="#2e2e2e" >1</text>
<text x="92.83" y="383.10" font-size="12.3" text-anchor="middle" fill="#2e2e2e" >2</text>
<text x="116.24" y="383.10" font-size="12.3" text-anchor="middle" fill="#2e2e2e" >3</text>
<text x="139.65" y="383.10" font-size="12.3" text-anchor="middle" fill="#2e2e2e" >4</text>
<text x="163.06" y="383.10" font-size="12.3" text-anchor="middle" fill="#2e2e2e" >5</text>
<text x="186.48" y="383.10" font-size="12.3" text-anchor="middle" fill="#2e2e2e" >6</text>
<text x="209.89" y="383.10" font-size="12.3" text-anchor="middle" fill="#2e2e2e" >7</text>
<text x="233.30" y="383.10" font-size="12.3" text-anchor="middle" fill="#2e2e2e" >8</text>
<text x="38.70" y="342.24" font-size="12" text-anchor="end" fill="#2e2e2e" >0.1</text>
<text x="38.70" y="312.38" font-size="12" text-anchor="end" fill="#2e2e2e" >0.2</text>
<text x="38.70" y="282.52" font-size="12" text-anchor="end" fill="#2e2e2e" >0.3</text>
<text x="38.70" y="252.66" font-size="12" text-anchor="end" fill="#2e2e2e" >0.4</text>
<text x="38.70" y="222.80" font-size="12" text-anchor="end" fill="#2e2e2e" >0.5</text>
<text transform="translate(14.00,366.70) rotate(-90)" x="0" y="0" font-size="12" fill="#2e2e2e" textLength="134.8" lengthAdjust="spacingAndGlyphs">Average residual energy  / J</text>
<text x="128.40" y="394.50" font-size="12" text-anchor="start" fill="#2e2e2e" textLength="68.5" lengthAdjust="spacingAndGlyphs" >Rounds(×10²)</text>
<text x="42.50" y="408.60" font-size="12" fill="#2e2e2e" textLength="193.8" lengthAdjust="spacingAndGlyphs">(d) Average residual energy at <tspan font-style="italic">k</tspan> = 2000</text>
<line x1="85.40" y1="230.00" x2="103.70" y2="230.00" stroke="#d8234a" stroke-width="1.15" />
<text x="105.40" y="233.00" font-size="9.8" text-anchor="start" fill="#000" textLength="65" lengthAdjust="spacingAndGlyphs" style="stroke:#000">Random Attacks</text>
<line x1="85.40" y1="238.90" x2="103.70" y2="238.90" stroke="#ffb428" stroke-width="1.15" />
<text x="105.40" y="241.90" font-size="9.8" text-anchor="start" fill="#000" textLength="102.2" lengthAdjust="spacingAndGlyphs" style="stroke:#000">Maximum-degree Attacks</text>
<line x1="85.40" y1="247.80" x2="103.70" y2="247.80" stroke="#4db32b" stroke-width="1.15" />
<text x="105.40" y="250.80" font-size="9.8" text-anchor="start" fill="#000" textLength="125.4" lengthAdjust="spacingAndGlyphs" style="stroke:#000">Maximum-betweenness Attacks</text>
<line x1="45.70" y1="325.50" x2="56.31" y2="321.64" stroke="#111" stroke-width="1.0" />
<polygon points="61.10,319.90 56.73,324.26 54.95,319.37" fill="#111"/>
<text x="62.30" y="321.70" font-size="12" text-anchor="start" fill="#2e2e2e" textLength="27" lengthAdjust="spacingAndGlyphs" >0.147</text>
<line x1="45.70" y1="325.50" x2="55.33" y2="330.25" stroke="#111" stroke-width="1.0" />
<polygon points="59.90,332.50 53.73,332.36 56.03,327.69" fill="#111"/>
<text x="62.30" y="336.70" font-size="12" text-anchor="start" fill="#2e2e2e" textLength="27" lengthAdjust="spacingAndGlyphs" >0.144</text>
<line x1="45.70" y1="325.50" x2="56.92" y2="341.06" stroke="#111" stroke-width="1.0" />
<polygon points="59.90,345.20 54.52,342.18 58.73,339.14" fill="#111"/>
<text x="62.30" y="350.00" font-size="12" text-anchor="start" fill="#2e2e2e" textLength="27" lengthAdjust="spacingAndGlyphs" >0.141</text>
<text x="182.30" y="352.40" font-size="12" text-anchor="start" fill="#2e2e2e" textLength="16.599999999999994" lengthAdjust="spacingAndGlyphs" >694</text>
<text x="182.30" y="366.00" font-size="12" text-anchor="start" fill="#2e2e2e" textLength="16.599999999999994" lengthAdjust="spacingAndGlyphs" >679</text>
<text x="214.70" y="366.00" font-size="12" text-anchor="start" fill="#2e2e2e" textLength="17.0" lengthAdjust="spacingAndGlyphs" >712</text>
<line x1="207.30" y1="369.30" x2="201.99" y2="357.45" stroke="#111" stroke-width="1.0" />
<polygon points="199.90,352.80 204.56,356.85 199.82,358.97" fill="#111"/>
<line x1="292.60" y1="306.50" x2="397.30" y2="306.50" stroke="#ff2a2a" stroke-width="1.0" opacity="0.8"/>
<line x1="292.60" y1="326.20" x2="445.10" y2="326.20" stroke="#2a2aff" stroke-width="1.0" opacity="0.8"/>
<line x1="397.30" y1="306.50" x2="397.30" y2="369.30" stroke="#ff2a2a" stroke-width="1.0" opacity="0.7"/>
<line x1="434.80" y1="326.20" x2="434.80" y2="369.30" stroke="#2a2aff" stroke-width="1.0" opacity="0.7"/>
<line x1="445.10" y1="326.20" x2="445.10" y2="369.30" stroke="#2a2aff" stroke-width="1.0" opacity="0.7"/>
<polyline points="292.60,225.20 294.13,226.02 295.66,226.88 297.19,227.76 298.72,228.67 300.25,229.61 301.77,230.57 303.30,231.56 304.83,232.57 306.36,233.61 307.89,234.66 309.42,235.74 310.95,236.84 312.48,237.95 314.01,239.08 315.54,240.23 317.06,241.40 318.59,242.57 320.12,243.77 321.65,244.97 323.18,246.19 324.71,247.41 326.24,248.65 327.77,249.89 329.30,251.15 330.83,252.41 332.35,253.67 333.88,254.95 335.41,256.23 336.94,257.51 338.47,258.79 340.00,260.08 341.53,261.37 343.06,262.67 344.59,263.96 346.12,265.25 347.65,266.54 349.17,267.84 350.70,269.13 352.23,270.41 353.76,271.70 355.29,272.98 356.82,274.26 358.35,275.53 359.88,276.80 361.41,278.06 362.94,279.32 364.46,280.57 365.99,281.81 367.52,283.05 369.05,284.28 370.58,285.51 372.11,286.72 373.64,287.93 375.17,289.12 376.70,290.31 378.23,291.49 379.75,292.66 381.28,293.82 382.81,294.97 384.34,296.11 385.87,297.24 387.40,298.36 388.93,299.47 390.46,300.57 391.99,301.65 393.52,302.73 395.05,303.80 396.57,304.85 398.10,305.89 399.63,306.92 401.16,307.95 402.69,308.95 404.22,309.95 405.75,310.94 407.28,311.92 408.81,312.88 410.34,313.84 411.86,314.78 413.39,315.72 414.92,316.64 416.45,317.55 417.98,318.45 419.51,319.35 421.04,320.23 422.57,321.11 424.10,321.97 425.63,322.83 427.15,323.68 428.68,324.52 430.21,325.35 431.74,326.17 433.27,326.99 434.80,327.80 445.00,330.90 452.00,333.00 455.00,333.30 456.00,334.50 457.00,333.50 460.40,334.30" fill="none" stroke="#d8234a" stroke-width="1.35" stroke-linejoin="round" stroke-linecap="round" />
<polyline points="292.60,228.90 294.13,229.72 295.66,230.57 297.19,231.45 298.72,232.37 300.25,233.31 301.77,234.28 303.30,235.28 304.83,236.31 306.36,237.36 307.89,238.43 309.42,239.52 310.95,240.64 312.48,241.77 314.01,242.93 315.54,244.10 317.06,245.29 318.59,246.49 320.12,247.71 321.65,248.94 323.18,250.19 324.71,251.44 326.24,252.71 327.77,253.99 329.30,255.27 330.83,256.56 332.35,257.86 333.88,259.17 335.41,260.48 336.94,261.79 338.47,263.11 340.00,264.43 341.53,265.75 343.06,267.07 344.59,268.39 346.12,269.71 347.65,271.03 349.17,272.34 350.70,273.65 352.23,274.96 353.76,276.27 355.29,277.57 356.82,278.86 358.35,280.15 359.88,281.43 361.41,282.70 362.94,283.96 364.46,285.22 365.99,286.46 367.52,287.70 369.05,288.92 370.58,290.13 372.11,291.33 373.64,292.52 375.17,293.70 376.70,294.86 378.23,296.01 379.75,297.15 381.28,298.27 382.81,299.38 384.34,300.47 385.87,301.55 387.40,302.61 388.93,303.66 390.46,304.68 391.99,305.70 393.52,306.69 395.05,307.67 396.57,308.63 398.10,309.57 399.63,310.50 401.16,311.41 402.69,312.29 404.22,313.16 405.75,314.02 407.28,314.85 408.81,315.66 410.34,316.46 411.86,317.24 413.39,317.99 414.92,318.73 416.45,319.45 417.98,320.15 419.51,320.83 421.04,321.49 422.57,322.14 424.10,322.76 425.63,323.36 427.15,323.95 428.68,324.52 430.21,325.07 431.74,325.60 433.27,326.11 434.80,326.60 436.00,330.90 437.50,335.70 437.60,343.90 441.40,343.90 441.80,357.00 442.50,361.00 446.00,365.00 450.20,365.00" fill="none" stroke="#ffb428" stroke-width="1.35" stroke-linejoin="round" stroke-linecap="round" />
<polyline points="292.60,228.80 294.12,229.54 295.65,230.33 297.18,231.15 298.70,232.01 300.23,232.90 301.75,233.82 303.28,234.78 304.80,235.77 306.33,236.78 307.85,237.82 309.38,238.88 310.90,239.97 312.43,241.08 313.95,242.21 315.48,243.36 317.00,244.52 318.53,245.71 320.05,246.90 321.58,248.11 323.10,249.33 324.62,250.57 326.15,251.81 327.68,253.06 329.20,254.32 330.73,255.58 332.25,256.85 333.78,258.12 335.30,259.40 336.83,260.68 338.35,261.96 339.88,263.23 341.40,264.51 342.93,265.79 344.45,267.06 345.98,268.33 347.50,269.59 349.03,270.85 350.55,272.10 352.08,273.35 353.60,274.58 355.12,275.81 356.65,277.03 358.18,278.25 359.70,279.45 361.23,280.64 362.75,281.82 364.28,282.98 365.80,284.14 367.33,285.28 368.85,286.41 370.38,287.53 371.90,288.63 373.43,289.72 374.95,290.80 376.48,291.86 378.00,292.90 379.53,293.93 381.05,294.95 382.58,295.95 384.10,296.93 385.62,297.90 387.15,298.86 388.68,299.79 390.20,300.72 391.73,301.62 393.25,302.52 394.78,303.39 396.30,304.25 397.83,305.10 399.35,305.93 400.88,306.75 402.40,307.55 403.93,308.33 405.45,309.11 406.98,309.87 408.50,310.61 410.03,311.35 411.55,312.07 413.08,312.78 414.60,313.48 416.12,314.16 417.65,314.84 419.18,315.50 420.70,316.16 422.23,316.81 423.75,317.45 425.27,318.08 426.80,318.71 428.33,319.33 429.85,319.94 431.38,320.56 432.90,321.16 434.43,321.77 435.95,322.37 437.48,322.97 439.00,323.57 440.52,324.18 442.05,324.78 443.58,325.39 445.10,326.00 446.60,330.80 447.50,335.60 448.20,344.00 449.40,348.20 450.80,352.50 452.00,358.50 453.20,362.00 454.20,365.10 459.80,365.10" fill="none" stroke="#4db32b" stroke-width="1.35" stroke-linejoin="round" stroke-linecap="round" />
<circle cx="397.30" cy="306.50" r="1.6" fill="#ff2a2a"/>
<circle cx="434.80" cy="326.60" r="1.6" fill="#2a2aff"/>
<circle cx="445.10" cy="326.00" r="1.6" fill="#2a2aff"/>
<line x1="292.60" y1="220.00" x2="480.70" y2="220.00" stroke="#666" stroke-width="1" />
<line x1="480.70" y1="220.00" x2="480.70" y2="369.30" stroke="#888" stroke-width="1" />
<line x1="292.60" y1="219.50" x2="292.60" y2="369.80" stroke="#6a6a6a" stroke-width="1" />
<line x1="292.10" y1="369.30" x2="481.20" y2="369.30" stroke="#555555" stroke-width="1" />
<line x1="313.50" y1="369.30" x2="313.50" y2="367.30" stroke="#555555" stroke-width="1" />
<line x1="334.40" y1="369.30" x2="334.40" y2="367.30" stroke="#555555" stroke-width="1" />
<line x1="355.30" y1="369.30" x2="355.30" y2="367.30" stroke="#555555" stroke-width="1" />
<line x1="376.20" y1="369.30" x2="376.20" y2="367.30" stroke="#555555" stroke-width="1" />
<line x1="397.10" y1="369.30" x2="397.10" y2="367.30" stroke="#555555" stroke-width="1" />
<line x1="418.00" y1="369.30" x2="418.00" y2="367.30" stroke="#555555" stroke-width="1" />
<line x1="438.90" y1="369.30" x2="438.90" y2="367.30" stroke="#555555" stroke-width="1" />
<line x1="459.80" y1="369.30" x2="459.80" y2="367.30" stroke="#555555" stroke-width="1" />
<line x1="292.60" y1="339.44" x2="294.60" y2="339.44" stroke="#555555" stroke-width="1" />
<line x1="292.60" y1="309.58" x2="294.60" y2="309.58" stroke="#555555" stroke-width="1" />
<line x1="292.60" y1="279.72" x2="294.60" y2="279.72" stroke="#555555" stroke-width="1" />
<line x1="292.60" y1="249.86" x2="294.60" y2="249.86" stroke="#555555" stroke-width="1" />
<text x="293.70" y="383.10" font-size="12.3" text-anchor="middle" fill="#2e2e2e" >0</text>
<text x="313.80" y="383.10" font-size="12.3" text-anchor="middle" fill="#2e2e2e" >1</text>
<text x="334.70" y="383.10" font-size="12.3" text-anchor="middle" fill="#2e2e2e" >2</text>
<text x="355.60" y="383.10" font-size="12.3" text-anchor="middle" fill="#2e2e2e" >3</text>
<text x="376.50" y="383.10" font-size="12.3" text-anchor="middle" fill="#2e2e2e" >4</text>
<text x="397.40" y="383.10" font-size="12.3" text-anchor="middle" fill="#2e2e2e" >5</text>
<text x="418.30" y="383.10" font-size="12.3" text-anchor="middle" fill="#2e2e2e" >6</text>
<text x="439.20" y="383.10" font-size="12.3" text-anchor="middle" fill="#2e2e2e" >7</text>
<text x="460.10" y="383.10" font-size="12.3" text-anchor="middle" fill="#2e2e2e" >8</text>
<text x="481.00" y="383.10" font-size="12.3" text-anchor="middle" fill="#2e2e2e" >9</text>
<text x="285.60" y="342.24" font-size="12" text-anchor="end" fill="#2e2e2e" >0.1</text>
<text x="285.60" y="312.38" font-size="12" text-anchor="end" fill="#2e2e2e" >0.2</text>
<text x="285.60" y="282.52" font-size="12" text-anchor="end" fill="#2e2e2e" >0.3</text>
<text x="285.60" y="252.66" font-size="12" text-anchor="end" fill="#2e2e2e" >0.4</text>
<text x="285.60" y="222.80" font-size="12" text-anchor="end" fill="#2e2e2e" >0.5</text>
<text transform="translate(261.00,369.20) rotate(-90)" x="0" y="0" font-size="12" fill="#2e2e2e" textLength="135.5" lengthAdjust="spacingAndGlyphs">Average residual energy  / J</text>
<text x="375.40" y="394.50" font-size="12" text-anchor="start" fill="#2e2e2e" textLength="73.1" lengthAdjust="spacingAndGlyphs" >Rounds  (×10²)</text>
<text x="291.90" y="408.60" font-size="12" fill="#2e2e2e" textLength="195.5" lengthAdjust="spacingAndGlyphs">(e) Average residual energy at <tspan font-style="italic">k</tspan> = 2000</text>
<line x1="332.90" y1="230.00" x2="351.20" y2="230.00" stroke="#d8234a" stroke-width="1.15" />
<text x="352.90" y="233.00" font-size="9.8" text-anchor="start" fill="#000" textLength="65" lengthAdjust="spacingAndGlyphs" style="stroke:#000">Random Attacks</text>
<line x1="332.90" y1="238.90" x2="351.20" y2="238.90" stroke="#ffb428" stroke-width="1.15" />
<text x="352.90" y="241.90" font-size="9.8" text-anchor="start" fill="#000" textLength="102.2" lengthAdjust="spacingAndGlyphs" style="stroke:#000">Maximum-degree Attacks</text>
<line x1="332.90" y1="247.80" x2="351.20" y2="247.80" stroke="#4db32b" stroke-width="1.15" />
<text x="352.90" y="250.80" font-size="9.8" text-anchor="start" fill="#000" textLength="125.4" lengthAdjust="spacingAndGlyphs" style="stroke:#000">Maximum-betweenness Attacks</text>
<line x1="292.60" y1="306.30" x2="303.73" y2="302.82" stroke="#111" stroke-width="1.0" />
<polygon points="308.60,301.30 304.03,305.45 302.48,300.49" fill="#111"/>
<text x="309.20" y="303.30" font-size="12" text-anchor="start" fill="#2e2e2e" textLength="27" lengthAdjust="spacingAndGlyphs" >0.212</text>
<line x1="292.60" y1="326.00" x2="303.75" y2="322.38" stroke="#111" stroke-width="1.0" />
<polygon points="308.60,320.80 304.08,325.00 302.47,320.06" fill="#111"/>
<text x="309.20" y="322.50" font-size="12" text-anchor="start" fill="#2e2e2e" textLength="27" lengthAdjust="spacingAndGlyphs" >0.144</text>
<line x1="292.60" y1="326.00" x2="304.17" y2="332.58" stroke="#111" stroke-width="1.0" />
<polygon points="308.60,335.10 302.45,334.59 305.02,330.07" fill="#111"/>
<text x="309.20" y="338.40" font-size="12" text-anchor="start" fill="#2e2e2e" textLength="27" lengthAdjust="spacingAndGlyphs" >0.141</text>
<text x="378.00" y="364.70" font-size="12" text-anchor="start" fill="#2e2e2e" textLength="17.600000000000023" lengthAdjust="spacingAndGlyphs" >530</text>
<text x="416.60" y="364.70" font-size="12" text-anchor="start" fill="#2e2e2e" textLength="17.19999999999999" lengthAdjust="spacingAndGlyphs" >681</text>
<text x="445.70" y="363.60" font-size="12" text-anchor="start" fill="#2e2e2e" textLength="18.69999999999999" lengthAdjust="spacingAndGlyphs" >735</text>
</svg>
</body></html>
